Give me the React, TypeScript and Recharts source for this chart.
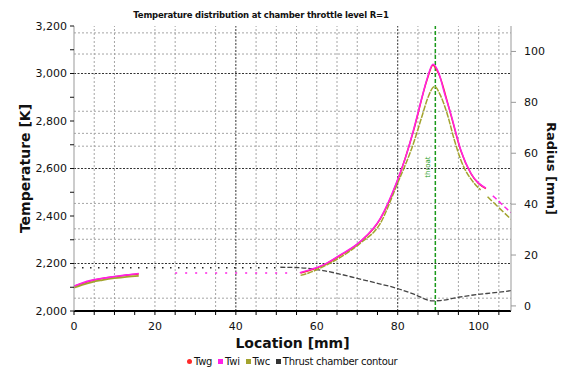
import React from "react";
import { ComposedChart, XAxis, YAxis, Line, ReferenceLine } from "recharts";

// Location [mm] / Temperature [K]
const twiX1 = [0, 2, 4.5, 7, 10, 13, 16];
const twiT1 = [2105, 2118, 2130, 2138, 2145, 2152, 2158];
const twiDotX = [25, 30, 36, 44, 50, 54];
const twiDotT = [2160, 2160, 2160, 2160, 2160, 2160];
const twiX2 = [55.8, 58, 61.6, 65.8, 70.7, 75.7, 79.8, 82, 83.9, 86, 87.3, 88.7, 90.2, 91.5, 93.1, 95.6, 98.1, 101.8];
const twiT2 = [2161, 2172, 2194, 2236, 2292, 2390, 2545, 2650, 2762, 2900, 2980, 3039, 3000, 2920, 2832, 2678, 2580, 2517];
const twiX3 = [103.5, 104.7, 106, 108];
const twiT3 = [2485, 2467, 2445, 2414];

const twgX1 = [0, 4.5, 10, 16];
const twgT1 = [2104, 2128, 2144, 2156];
const twgX2 = [56, 61.6, 65.8, 70.7, 75.7, 79.8, 83.9, 87.3, 88.7, 90.2, 93.1, 95.6, 98.1, 101.8];
const twgT2 = [2160, 2192, 2234, 2290, 2388, 2542, 2758, 2976, 3035, 2996, 2828, 2675, 2578, 2515];

const twcX1 = [0, 2, 4.5, 7, 10, 13, 16];
const twcT1 = [2098, 2110, 2122, 2130, 2138, 2144, 2148];
const twcX2 = [56, 58, 61.6, 65.8, 70.7, 75.7, 79.8, 83.9, 86, 87.5, 89.1, 90.5, 92.2, 94, 95.6, 98.9, 100.5];
const twcT2 = [2150, 2160, 2187, 2226, 2285, 2369, 2531, 2706, 2820, 2900, 2945, 2910, 2832, 2720, 2636, 2538, 2510];
const twcX3 = [102.2, 105, 108];
const twcT3 = [2481, 2435, 2386];

// Thrust chamber contour, radius [mm]
const contourDotX = [0, 10, 20, 30, 40, 51];
const contourDotR = [15, 15, 15, 15, 15, 15];
const contourX = [51, 56, 61.5, 66, 70, 75, 80, 84, 88.5, 90.5, 95, 99.7, 104, 108];
const contourR = [15.2, 15, 13.9, 12.4, 10.8, 8.9, 6.8, 4.6, 2, 2.1, 3.4, 4.5, 5.2, 6];

const throatX = 89.3;

const xTicks = [0, 5, 10, 15, 20, 25, 30, 35, 40, 45, 50, 55, 60, 65, 70, 75, 80, 85, 90, 95, 100, 105];
const tempTicks = [2000, 2100, 2200, 2300, 2400, 2500, 2600, 2700, 2800, 2900, 3000, 3100, 3200];
const radiusTicks = [0, 20, 40, 60, 80, 100];

const gridX = [5, 10, 20, 25, 35, 45, 50, 55, 60, 65, 70, 85, 95, 100, 105];
const gridY = [3171, 3082, 2841, 2748, 2694, 2453, 2346, 2302, 2054];
const darkX = [40, 80];
const darkY = [3000, 2600, 2200];

const pts = (xs: number[], ys: number[], key: string) =>
  xs.map((x, i) => ({ x, [key]: ys[i] }));

const font = "'DejaVu Sans', Verdana, sans-serif";

const legendItems = [
  { name: "Twg", color: "#ff2a2a", round: true },
  { name: "Twi", color: "#ff22e6", round: false },
  { name: "Twc", color: "#a3a32e", round: false },
  { name: "Thrust chamber contour", color: "#333", round: false },
];

const ThroatLabel = (props: any) => {
  const { viewBox } = props;
  const x = viewBox.x - 5;
  const y = 167;
  return (
    <text
      x={x}
      y={y}
      transform={`rotate(-90 ${x} ${y})`}
      textAnchor="middle"
      fontSize={7}
      fill="#1a9a1a"
      fontFamily={font}
    >
      throat
    </text>
  );
};

export default function App() {
  const tick = { fontSize: 11, fill: "#111", fontFamily: font };
  return (
    <div style={{ position: "absolute", left: 0, top: 0, width: 562, height: 369, background: "#fff" }}>
      <ComposedChart width={562} height={369} margin={{ top: 26, right: 0, bottom: 28, left: 0 }}>
        <XAxis
          type="number"
          dataKey="x"
          domain={[0, 108]}
          ticks={xTicks}
          tickFormatter={(v: number) => (v % 20 === 0 ? String(v) : "")}
          allowDataOverflow
          tick={tick}
          tickSize={4}
          tickMargin={7}
          axisLine={{ stroke: "#000", strokeWidth: 2 }}
          tickLine={{ stroke: "#000" }}
          label={{ value: "Location [mm]", position: "insideBottom", offset: -7, style: { fontSize: 14, fontWeight: "bold", fill: "#111", fontFamily: font } }}
        />
        <YAxis
          yAxisId="left"
          width={74}
          domain={[2000, 3200]}
          ticks={tempTicks}
          interval={0}
          tickFormatter={(v: number) => (v % 200 === 0 ? v.toLocaleString("en-US") : "")}
          tick={tick}
          tickSize={4}
          tickMargin={3}
          axisLine={{ stroke: "#999" }}
          tickLine={{ stroke: "#111" }}
          label={{ value: "Temperature [K]", angle: -90, position: "insideLeft", offset: 25, style: { textAnchor: "middle", fontSize: 14, fontWeight: "bold", fill: "#111", fontFamily: font } }}
        />
        <YAxis
          yAxisId="right"
          orientation="right"
          width={51}
          domain={[-2, 110]}
          ticks={radiusTicks}
          interval={0}
          tick={tick}
          tickSize={5}
          tickMargin={8}
          axisLine={{ stroke: "#999" }}
          tickLine={{ stroke: "#999" }}
          label={{ value: "Radius [mm]", angle: 90, position: "insideRight", offset: 10, style: { textAnchor: "middle", fontSize: 13, fontWeight: "bold", fill: "#111", fontFamily: font } }}
        />
        {gridY.map((v) => (
          <ReferenceLine key={"gy" + v} yAxisId="left" y={v} stroke="#a5a5a5" strokeDasharray="2 2" />
        ))}
        {gridX.map((v) => (
          <ReferenceLine key={"gx" + v} yAxisId="left" x={v} stroke="#a5a5a5" strokeDasharray="2 2" />
        ))}
        {darkY.map((v) => (
          <ReferenceLine key={"y" + v} yAxisId="left" y={v} stroke="#333" strokeDasharray="2 1.5" />
        ))}
        {darkX.map((v) => (
          <ReferenceLine key={"x" + v} yAxisId="left" x={v} stroke="#333" strokeDasharray="2 1.5" />
        ))}
        <ReferenceLine yAxisId="left" x={throatX} stroke="#1a9a1a" strokeWidth={1.5} strokeDasharray="4 2" label={<ThroatLabel />} />

        <Line yAxisId="right" data={pts(contourDotX, contourDotR, "r")} dataKey="r" stroke="#222" strokeWidth={1.5} strokeDasharray="1.5 6.5" dot={false} isAnimationActive={false} />
        <Line yAxisId="right" type="monotone" data={pts(contourX, contourR, "r")} dataKey="r" stroke="#444" strokeWidth={1.3} strokeDasharray="5 2" dot={false} isAnimationActive={false} />

        <Line yAxisId="left" type="monotone" data={pts(twgX1, twgT1, "t")} dataKey="t" stroke="#ff2a2a" strokeWidth={1.5} dot={false} isAnimationActive={false} />
        <Line yAxisId="left" type="monotone" data={pts(twgX2, twgT2, "t")} dataKey="t" stroke="#ff2a2a" strokeWidth={1.5} dot={false} isAnimationActive={false} />

        <Line yAxisId="left" type="monotone" data={pts(twcX1, twcT1, "t")} dataKey="t" stroke="#a3a32e" strokeWidth={1.8} dot={false} isAnimationActive={false} />
        <Line yAxisId="left" type="monotone" data={pts(twcX2, twcT2, "t")} dataKey="t" stroke="#a3a32e" strokeWidth={1.5} strokeDasharray="6 1" dot={false} isAnimationActive={false} />
        <Line yAxisId="left" type="monotone" data={pts(twcX3, twcT3, "t")} dataKey="t" stroke="#a3a32e" strokeWidth={1.5} strokeDasharray="6 2" dot={false} isAnimationActive={false} />

        <Line yAxisId="left" type="monotone" data={pts(twiX1, twiT1, "t")} dataKey="t" stroke="#ff22e6" strokeWidth={1.6} dot={false} isAnimationActive={false} />
        <Line yAxisId="left" data={pts(twiDotX, twiDotT, "t")} dataKey="t" stroke="#ff22e6" strokeWidth={1.5} strokeDasharray="2 8" dot={false} isAnimationActive={false} />
        <Line yAxisId="left" type="monotone" data={pts(twiX2, twiT2, "t")} dataKey="t" stroke="#ff22e6" strokeWidth={1.5} dot={false} isAnimationActive={false} />
        <Line yAxisId="left" type="monotone" data={pts(twiX3, twiT3, "t")} dataKey="t" stroke="#ff22e6" strokeWidth={1.5} strokeDasharray="5 3" dot={false} isAnimationActive={false} />
      </ComposedChart>

      <div
        style={{
          position: "absolute",
          left: 120,
          top: 10,
          width: 282,
          textAlign: "center",
          fontFamily: font,
          fontSize: 8.5,
          fontWeight: "bold",
          color: "#111",
          whiteSpace: "nowrap",
          letterSpacing: -0.2,
        }}
      >
        Temperature distribution at chamber throttle level R=1
      </div>

      <div
        style={{
          position: "absolute",
          left: 187,
          top: 356,
          display: "flex",
          gap: 6,
          fontFamily: font,
          fontSize: 10,
          color: "#111",
          whiteSpace: "nowrap",
          letterSpacing: -0.3,
          lineHeight: "11px",
        }}
      >
        {legendItems.map((it) => (
          <span key={it.name} style={{ display: "flex", alignItems: "center" }}>
            <span
              style={{
                display: "inline-block",
                width: 5,
                height: 5,
                background: it.color,
                borderRadius: it.round ? 3 : 0,
                marginRight: 2,
              }}
            />
            {it.name}
          </span>
        ))}
      </div>
    </div>
  );
}
